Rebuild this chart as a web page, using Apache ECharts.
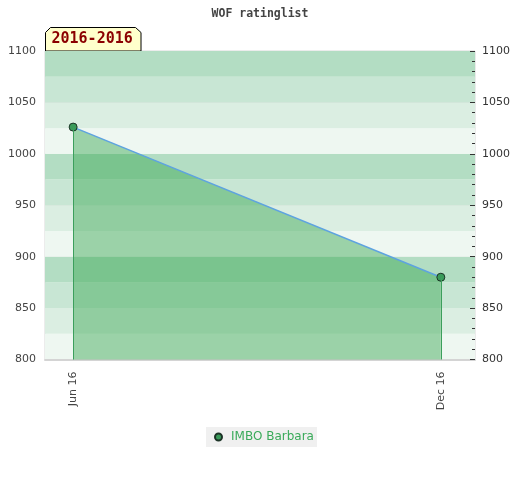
<!DOCTYPE html>
<html>
<head>
<meta charset="utf-8">
<style>html,body{margin:0;padding:0;background:#fff;}#c{width:520px;height:480px;}</style>
<script src="https://cdn.jsdelivr.net/npm/echarts@6/dist/echarts.min.js"></script>
</head>
<body>
<div id="c"></div>
<script>
const dates = ['2016-06-01', '2016-12-01'];
const tickLabels = ['Jun 16', 'Dec 16'];
const ratings = [1026, 880];
const seriesName = 'IMBO Barbara';
const titleText = 'WOF ratinglist';
const periodText = '2016-2016';
const yMin = 800, yMax = 1100, yStep = 50, bandStep = 25;
const xMinDate = '2016-05-18', xMaxDate = '2016-12-18';

const ts = d => new Date(d + 'T00:00:00Z').getTime();
const xTicks = dates.map(ts);

const chart = echarts.init(document.getElementById('c'), null, {renderer: 'canvas'});
chart.setOption({
  animation: false,
  backgroundColor: '#fff',
  title: {
    text: titleText, left: 'center', top: 3,
    textStyle: {fontFamily: 'DejaVu Sans Mono', fontWeight: 'bold', fontSize: 11.5, color: '#444'}
  },
  grid: {left: 45, right: 45, top: 51, bottom: 120.5, show: true, borderColor: '#d8d8d8', borderWidth: 1},
  legend: {
    bottom: 33, left: 206,
    backgroundColor: '#f0f0f0', padding: [4, 3, 4, 8],
    icon: 'circle', itemWidth: 7, itemHeight: 7, itemGap: 10,
    textStyle: {fontFamily: 'DejaVu Sans', fontSize: 12, color: '#3aaa5a', padding: [0, 0, 0, 4]}
  },
  xAxis: {
    type: 'value', min: ts(xMinDate), max: ts(xMaxDate),
    axisLine: {show: true, lineStyle: {color: '#d4d4d4', width: 2}},
    axisTick: {show: false},
    splitLine: {show: false},
    axisLabel: {
      customValues: xTicks, rotate: 90, margin: 12,
      fontFamily: 'DejaVu Sans', fontSize: 11, color: '#444',
      formatter: v => { const i = xTicks.indexOf(v); return i >= 0 ? tickLabels[i] : ''; }
    }
  },
  yAxis: [
    {
      type: 'value', position: 'left', min: yMin, max: yMax, interval: yStep,
      axisLine: {show: false}, axisTick: {show: false},
      axisLabel: {margin: 9, fontFamily: 'DejaVu Sans', fontSize: 11, color: '#444', formatter: v => String(v)},
      splitLine: {show: true, lineStyle: {color: '#dedede', width: 1}}
    },
    {
      type: 'value', position: 'right', min: yMin, max: yMax, interval: yStep,
      axisLine: {show: false},
      axisTick: {show: true, inside: true, length: 5, lineStyle: {color: '#333'}},
      minorTick: {show: true, splitNumber: 5, length: 3, lineStyle: {color: '#333'}},
      axisLabel: {margin: 7, fontFamily: 'DejaVu Sans', fontSize: 11, color: '#333', formatter: v => String(v)},
      splitLine: {show: false}
    },
    {
      type: 'value', position: 'left', min: yMin, max: yMax, interval: bandStep,
      axisLine: {show: false}, axisTick: {show: false}, axisLabel: {show: false},
      splitLine: {show: false},
      splitArea: {show: true, areaStyle: {color: ['#eef7f1', '#dbeee2', '#c8e6d4', '#b3ddc3']}}
    }
  ],
  series: [{
    name: seriesName, type: 'line', yAxisIndex: 0,
    data: dates.map((d, i) => [ts(d), ratings[i]]),
    symbol: 'circle', symbolSize: 8,
    itemStyle: {color: '#3a9a5a', borderColor: '#1c3326', borderWidth: 1},
    lineStyle: {color: '#5ea3e0', width: 1.5},
    areaStyle: {origin: 'start', color: '#32a54b', opacity: 0.44},
    markLine: {
      silent: true, symbol: 'none', label: {show: false},
      lineStyle: {color: '#3c9f5c', width: 1, type: 'solid', opacity: 1},
      data: dates.map((d, i) => [{coord: [ts(d), ratings[i]]}, {coord: [ts(d), yMin]}])
    },
    z: 3
  }],
  graphic: [{
    type: 'group', left: 45, top: 27, z: 10,
    children: [
      {type: 'polygon', shape: {points: [[0, 23.5], [0, 5], [5, 0], [90, 0], [95.5, 5], [95.5, 23.5]]},
       style: {fill: '#ffffcc', stroke: '#000', lineWidth: 1}},
      {type: 'text', left: 6, top: 4,
       style: {text: periodText, fill: '#8b0000', font: 'bold 15px "DejaVu Sans Mono"'}}
    ]
  }]
});
</script>
</body>
</html>
